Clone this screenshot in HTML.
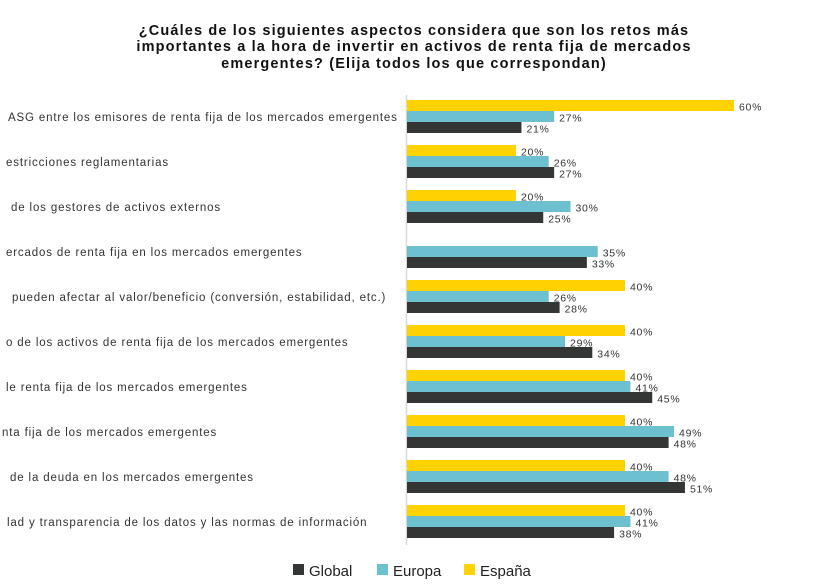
<!DOCTYPE html>
<html><head><meta charset="utf-8"><style>
body{margin:0;background:#fff;}
svg{display:block;font-family:"Liberation Sans",Arial,sans-serif;}
</style></head><body>
<svg id="chart" width="826" height="587">
<g font-weight="bold" font-size="14.5" letter-spacing="1.15" fill="#111" text-anchor="middle">
<text x="414" y="35">¿Cuáles de los siguientes aspectos considera que son los retos más</text>
<text x="414" y="51">importantes a la hora de invertir en activos de renta fija de mercados</text>
<text x="414" y="68">emergentes?  (Elija todos los que correspondan)</text>
</g>
<line x1="406.5" y1="95" x2="406.5" y2="545" stroke="#d9d9d9" stroke-width="1.5"/>
<g id="bars"></g>
<g font-size="15" fill="#222">
<rect x="293" y="564" width="11" height="11" fill="#333634"/>
<text x="309" y="576">Global</text>
<rect x="377" y="564" width="11" height="11" fill="#6cc0cf"/>
<text x="393" y="576">Europa</text>
<rect x="464" y="564" width="11" height="11" fill="#ffd200"/>
<text x="480" y="576">España</text>
</g>
</svg>
<script>
const categories=[
"ASG entre los emisores de renta fija de los mercados emergentes",
"estricciones reglamentarias",
"de los gestores de activos externos",
"ercados de renta fija en los mercados emergentes",
"pueden afectar al valor/beneficio (conversión, estabilidad, etc.)",
"o de los activos de renta fija de los mercados emergentes",
"le renta fija de los mercados emergentes",
"nta fija de los mercados emergentes",
"de la deuda en los mercados emergentes",
"lad y transparencia de los datos y las normas de información"];
const labelStartX=[8,6,11,6,12,6,6,2,10,7];
const espana=[60,20,20,null,40,40,40,40,40,40];
const europa=[27,26,30,35,26,29,41,49,48,41];
const global=[21,27,25,33,28,34,45,48,51,38];
const seriesNames=["espana","europa","global"];
const seriesColors=["#ffd200","#6cc0cf","#333634"];
const x0=407, pxPer=5.45, top0=100, groupStep=45, barH=11;
const xs=v=>x0+v*pxPer;
const ns="http://www.w3.org/2000/svg";
const g=document.getElementById('bars');
[espana,europa,global].forEach((arr,si)=>{
  arr.forEach((v,i)=>{
    if(v===null) return;
    const y=top0+i*groupStep+si*barH;
    const r=document.createElementNS(ns,'rect');
    r.setAttribute('x',x0);r.setAttribute('y',y);
    r.setAttribute('width',xs(v)-x0);r.setAttribute('height',barH);
    r.setAttribute('fill',seriesColors[si]);
    
    
    g.appendChild(r);
    const t=document.createElementNS(ns,'text');
    t.setAttribute('x',xs(v)+5);t.setAttribute('y',y+barH/2+5);
    t.setAttribute('font-size','10.5');t.setAttribute('fill','#333');
    t.setAttribute('letter-spacing','0.7');
    t.textContent=v+'%';
    
    
    g.appendChild(t);
  });
});
categories.forEach((c,i)=>{
  const t=document.createElementNS(ns,'text');
  t.setAttribute('x',labelStartX[i]);t.setAttribute('y',top0+i*groupStep+21);
  t.setAttribute('font-size','11.5');t.setAttribute('fill','#333');
  t.setAttribute('letter-spacing','0.85');
  t.textContent=c;
  
  
  g.appendChild(t);
});
</script>
</body></html>
